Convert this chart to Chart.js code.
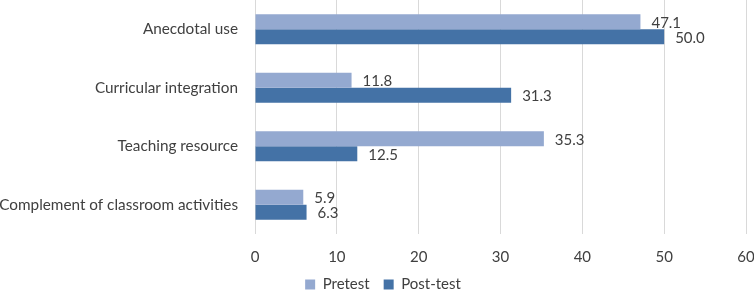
<!DOCTYPE html>
<html><head><meta charset="utf-8">
<script src="https://cdn.jsdelivr.net/npm/chart.js@4"></script>
<style>html,body{margin:0;padding:0;background:#fff}#w{width:754px;height:298px}</style>
</head><body><div id="w"><canvas id="c"></canvas></div>
<script>
const categories = ["Anecdotal use", "Curricular integration", "Teaching resource", "Complement of classroom activities"];
const pretest = [47.1, 11.8, 35.3, 5.9];
const posttest = [50.0, 31.3, 12.5, 6.3];
const xTicks = [0, 10, 20, 30, 40, 50, 60];

const FONT = "Lato, 'Open Sans', sans-serif";
const labelPlugin = {
  id: 'vals',
  afterDatasetsDraw(chart) {
    const ctx = chart.ctx;
    ctx.save();
    ctx.font = "15px " + FONT;
    ctx.fillStyle = "#404040";
    ctx.textAlign = "left";
    ctx.textBaseline = "middle";
    chart.data.datasets.forEach((ds, i) => {
      chart.getDatasetMeta(i).data.forEach((bar, j) => {
        ctx.fillText(ds.data[j].toFixed(1), bar.x + 11, bar.y + 1);
      });
    });
    ctx.restore();
  }
};
const legendFix = {
  id: 'legendFix',
  beforeLayout(chart) {
    const lg = chart.legend;
    if (lg && !lg._patched) {
      const f = lg.fit.bind(lg);
      lg.fit = function () { f(); this.height = 35; };
      lg._patched = true;
    }
  },
  afterLayout(chart) {
    const lg = chart.legend;
    if (lg) { lg.left += 6; lg.right += 6; }
  }
};

new Chart(document.getElementById('c'), {
  type: 'bar',
  data: {
    labels: categories,
    datasets: [
      { label: 'Pretest', data: pretest, backgroundColor: '#94A9D0' },
      { label: 'Post-test', data: posttest, backgroundColor: '#4472A6' }
    ]
  },
  options: {
    indexAxis: 'y',
    responsive: true,
    maintainAspectRatio: false,
    animation: false,
    layout: { padding: { top: 0, right: 0, left: 0, bottom: 0 } },
    datasets: { bar: { categoryPercentage: 0.51, barPercentage: 1.0 } },
    scales: {
      x: {
        min: 0, max: 60,
        afterBuildTicks(s) { s.ticks = xTicks.map(v => ({ value: v })); },
        afterFit(s) { s.paddingLeft = 0; s.paddingRight = 8; s.height = 29; },
        grid: { color: '#d9d9d9', drawTicks: false },
        border: { display: false },
        ticks: { font: { size: 15, family: FONT }, color: '#404040', padding: 14 }
      },
      y: {
        grid: { display: false },
        border: { display: false },
        afterFit(s) { s.width = 255; s.paddingTop = 0; s.paddingBottom = 0; },
        ticks: { font: { size: 15.3, family: FONT }, color: '#404040', padding: 9 }
      }
    },
    plugins: {
      legend: {
        position: 'bottom',
        labels: { boxWidth: 10, boxHeight: 10, font: { size: 15, family: FONT }, color: '#404040', padding: 14 }
      },
      tooltip: { enabled: false }
    }
  },
  plugins: [labelPlugin, legendFix]
});
</script></body></html>
